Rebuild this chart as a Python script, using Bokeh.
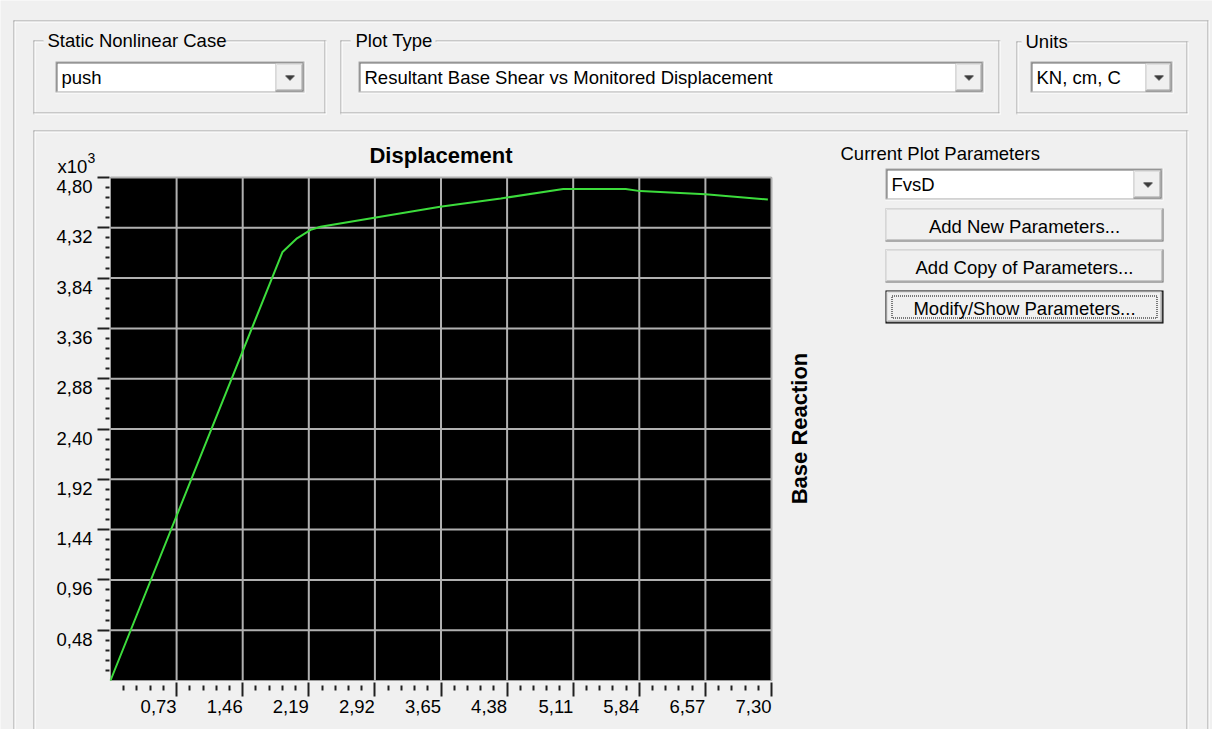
import math
from bokeh.plotting import figure
from bokeh.models import Range1d, LinearAxis, FixedTicker, ColumnDataSource
from bokeh.core.properties import value
from bokeh.embed import file_html
from bokeh.resources import INLINE

# ---------------- data ----------------
displacement_cm = [0.00, 1.90, 2.06, 2.21, 2.32, 3.64, 4.31, 5.00, 5.69, 5.85, 6.57, 7.26]
base_reaction_e3_kN = [0.00, 4.09, 4.22, 4.30, 4.33, 4.52, 4.60, 4.69, 4.69, 4.67, 4.64, 4.59]

x_ticks = [0.73, 1.46, 2.19, 2.92, 3.65, 4.38, 5.11, 5.84, 6.57, 7.30]
x_tick_labels = ["0,73", "1,46", "2,19", "2,92", "3,65", "4,38", "5,11", "5,84", "6,57", "7,30"]
y_ticks = [0.48, 0.96, 1.44, 1.92, 2.40, 2.88, 3.36, 3.84, 4.32, 4.80]
y_tick_labels = ["0,48", "0,96", "1,44", "1,92", "2,40", "2,88", "3,36", "3,84", "4,32", "4,80"]
x_minor_step = 0.146
y_minor_step = 0.096

x_title = "Displacement"
y_title = "Base Reaction"
y_multiplier = "x10"
y_multiplier_exp = "3"

case_title = "Static Nonlinear Case"
case_value = "push"
plot_type_title = "Plot Type"
plot_type_value = "Resultant Base Shear vs Monitored Displacement"
units_title = "Units"
units_value = "KN, cm, C"
params_title = "Current Plot Parameters"
params_value = "FvsD"
buttons = ["Add New Parameters...", "Add Copy of Parameters...", "Modify/Show Parameters..."]

# ---------------- layout constants (pixels of the page) ----------------
W, H = 1212, 729
FL, FR, FT, FB = 110, 771, 177, 680   # edges of the plotting area
BG = "#f0f0f0"
SHADOW = "#a0a0a0"
DARK = "#696969"
HILITE = "#ffffff"
SANS = "Liberation Sans"
UI_SIZE = "18.5px"

x_minor = [round(i * x_minor_step, 3) for i in range(1, 51) if i % 5]
y_minor = [round(i * y_minor_step, 3) for i in range(1, 51) if i % 5]

# page canvas in pixel units (y downwards) for the dialog chrome
p = figure(width=W, height=H, output_backend="svg", toolbar_location=None,
           x_range=Range1d(0, W), y_range=Range1d(H, 0),
           x_axis_type=None, y_axis_type=None,
           min_border=0, min_border_left=0, min_border_right=0,
           min_border_top=0, min_border_bottom=0)
p.outline_line_color = None
p.background_fill_color = BG
p.border_fill_color = BG

# chart ranges mapped onto the plotting area of the dialog
x_max = x_ticks[-1]
y_max = y_ticks[-1]
kx = (FR - FL) / x_max
ky = (FB - FT) / y_max
p.extra_x_ranges = {"disp": Range1d(-FL / kx, (W - FL) / kx)}
p.extra_y_ranges = {"react": Range1d(-(H - FB) / ky, y_max + FT / ky)}
XY = dict(x_range_name="disp", y_range_name="react")

# ---------------- dialog chrome ----------------
R = dict(left=[], right=[], top=[], bottom=[], color=[])


def rect(x0, y0, x1, y1, c):
    R["left"].append(x0)
    R["right"].append(x1)
    R["top"].append(y0)
    R["bottom"].append(y1)
    R["color"].append(c)


def hline(x0, x1, y, c):
    rect(x0, y, x1, y + 1, c)


def vline(x, y0, y1, c):
    rect(x, y0, x + 1, y1, c)


def etched(x0, y0, x1, y1, gap=None):
    segs = [(x0, x1)] if gap is None else [(x0, gap[0]), (gap[1], x1)]
    for a, b in segs:
        hline(a, b, y0, SHADOW)
        hline(a + 1, b, y0 + 1, HILITE)
    vline(x0, y0, y1, SHADOW)
    vline(x0 + 1, y0 + 1, y1 - 1, HILITE)
    vline(x1 - 2, y0, y1 - 1, SHADOW)
    vline(x1 - 1, y0, y1, HILITE)
    hline(x0, x1 - 1, y1 - 2, SHADOW)
    hline(x0, x1, y1 - 1, HILITE)


def raised(x0, y0, x1, y1, face=BG):
    rect(x0, y0, x1, y1, DARK)
    rect(x0, y0, x1 - 1, y1 - 1, HILITE)
    rect(x0 + 1, y0 + 1, x1 - 1, y1 - 1, SHADOW)
    rect(x0 + 1, y0 + 1, x1 - 2, y1 - 2, face)


def sunken(x0, y0, x1, y1):
    rect(x0, y0, x1, y1, HILITE)
    rect(x0, y0, x1 - 1, y1 - 1, SHADOW)
    rect(x0 + 1, y0 + 1, x1 - 1, y1 - 1, "#e3e3e3")
    rect(x0 + 1, y0 + 1, x1 - 2, y1 - 2, DARK)
    rect(x0 + 2, y0 + 2, x1 - 2, y1 - 2, HILITE)


def arrow(xc, yc):
    for i, w in enumerate((9, 7, 5, 3, 1)):
        rect(xc - w // 2, yc - 2 + i, xc - w // 2 + w, yc - 1 + i, "black")


TEXTS = []


def text(x, y, s, size=UI_SIZE, align="left", baseline="middle", style="normal", angle=0.0):
    TEXTS.append((x, y, s, size, align, baseline, style, angle))


def combo(x0, y0, x1, y1, bx0, bx1, val):
    sunken(x0, y0, x1, y1)
    raised(bx0, y0 + 2, bx1, y1 - 2)
    arrow((bx0 + bx1) // 2, (y0 + y1) // 2)
    text(x0 + 6, (y0 + y1) / 2, val)


# outer frame
hline(13, 1208, 20, SHADOW)
hline(14, 1208, 21, HILITE)
vline(13, 20, H, SHADOW)
vline(14, 21, H, HILITE)
vline(1207, 20, H, SHADOW)
vline(1208, 20, H, HILITE)

# group boxes
etched(33, 40, 326, 114, gap=(43, 225))
text(47, 40, case_title)
combo(55, 61, 305, 93, 275, 303, case_value)

etched(340, 40, 1000, 114, gap=(350, 435))
text(355, 40, plot_type_title)
combo(358, 61, 984, 93, 955, 982, plot_type_value)

etched(1016, 41, 1188, 114, gap=(1021, 1067))
text(1025, 41, units_title)
combo(1030, 61, 1173, 93, 1145, 1171, units_value)

# lower panel
etched(33, 130, 1188, H + 20)

# right side controls
text(840, 153, params_title)
combo(885, 168, 1163, 200, 1133, 1161, params_value)
btn_y = [(208, 241), (249, 282), (290, 323)]
for (y0, y1), label in zip(btn_y, buttons):
    if label == buttons[-1]:
        rect(885, y0, 1163, y1, "black")
        raised(886, y0 + 1, 1162, y1 - 1)
    else:
        raised(885, y0, 1163, y1)
    text(1024, (y0 + y1) / 2 + 1, label, align="center")

p.quad(left="left", right="right", top="top", bottom="bottom", fill_color="color",
       line_color=None, source=ColumnDataSource(R))
# focus rectangle on the default button
p.quad(left=[891.5], right=[1156.5], top=[295.5], bottom=[317.5], fill_color=None,
       line_color="black", line_width=1, line_dash="1 1")

# ---------------- the chart ----------------
p.quad(left=[0], right=[x_max], bottom=[0], top=[y_max], fill_color="black",
       line_color="#9c9c9c", line_width=1, **XY)
p.segment(x0=x_ticks, y0=[0] * len(x_ticks), x1=x_ticks, y1=[y_max] * len(x_ticks),
          line_color="#b0b0b0", line_width=2, **XY)
p.segment(x0=[0] * len(y_ticks), y0=y_ticks, x1=[x_max] * len(y_ticks), y1=y_ticks,
          line_color="#b0b0b0", line_width=2, **XY)
p.line(displacement_cm, base_reaction_e3_kN, line_color="#3cdc3c", line_width=2, **XY)

xax = LinearAxis(fixed_location=0, ticker=FixedTicker(ticks=x_ticks, minor_ticks=x_minor),
                 major_label_overrides={t: "" for t in x_ticks}, **XY)
yax = LinearAxis(fixed_location=0, ticker=FixedTicker(ticks=y_ticks, minor_ticks=y_minor),
                 major_label_overrides={t: "" for t in y_ticks}, **XY)
for ax in (xax, yax):
    ax.axis_line_color = None
    ax.major_tick_line_color = "#202020"
    ax.minor_tick_line_color = "#202020"
    ax.major_tick_line_width = 2
    ax.minor_tick_line_width = 2
xax.major_tick_in = -2
xax.major_tick_out = 16
xax.minor_tick_in = -5
xax.minor_tick_out = 10
yax.major_tick_in = -1
yax.major_tick_out = 13
yax.minor_tick_in = -1
yax.minor_tick_out = 5
p.add_layout(xax, "below")
p.add_layout(yax, "left")

# tick labels, placed at the tick values through the chart scales
p.text(x=x_ticks, y=[0] * len(x_ticks), text=x_tick_labels, text_align="right",
       text_baseline="top", y_offset=19, text_font=value(SANS), text_font_size=value(UI_SIZE),
       text_color="black", **XY)
p.text(x=[0] * len(y_ticks), y=y_ticks, text=y_tick_labels, text_align="right",
       text_baseline="middle", x_offset=-18, y_offset=9, text_font=value(SANS),
       text_font_size=value(UI_SIZE), text_color="black", **XY)

# chart titles
text((FL + FR) / 2, 155, x_title, size="22px", align="center", style="bold")
text(799, 428, y_title, size="22px", align="center", style="bold", angle=math.pi / 2)
text(57, 166, y_multiplier, size=UI_SIZE)
text(87, 157, y_multiplier_exp, size="14px")

for (x, y, s, size, align, baseline, style, angle) in TEXTS:
    p.text(x=[x], y=[y], text=[s], text_font=value(SANS), text_font_size=value(size),
           text_font_style=style, text_align=align, text_baseline=baseline,
           angle=angle, text_color="black")

open("out.html", "w").write(file_html(p, INLINE))
